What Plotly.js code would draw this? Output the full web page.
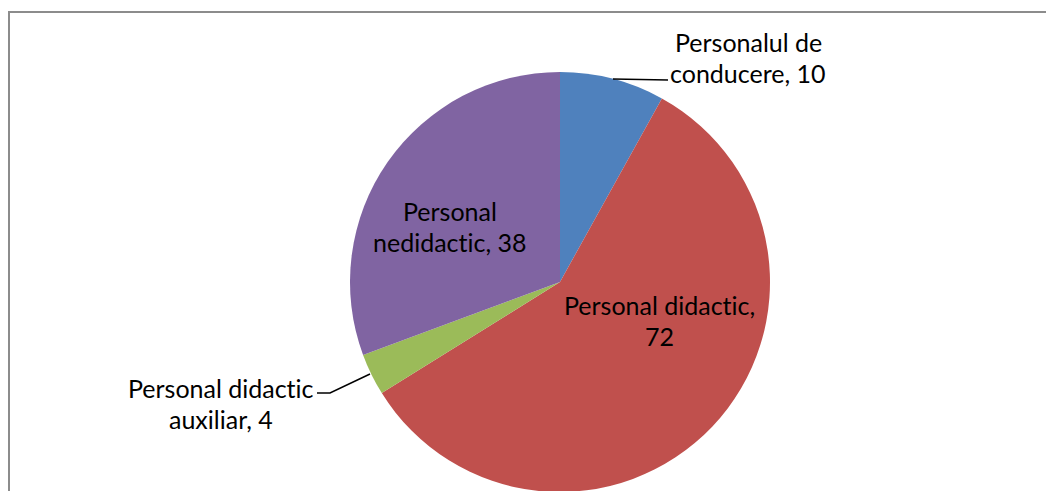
<!DOCTYPE html>
<html><head><meta charset="utf-8">
<script src="https://cdn.plot.ly/plotly-3.0.1.min.js"></script>
<style>html,body{margin:0;padding:0;overflow:hidden;background:#fff;}#chart{width:1046px;height:520px;}
svg text{font-variant-ligatures:none;font-feature-settings:"liga" 0;}</style>
</head><body><div id="chart"></div>
<script>
var labels = ['Personalul de conducere', 'Personal didactic', 'Personal didactic auxiliar', 'Personal nedidactic'];
var values = [10, 72, 4, 38];
var colors = ['#4F81BD', '#C0504D', '#9BBB59', '#8064A2'];
// how each label is broken into lines (the value is appended to the last line)
var labelLines = [['Personalul de', 'conducere'], ['Personal didactic', ''], ['Personal didactic', 'auxiliar'], ['Personal', 'nedidactic']];

var W = 1046, H = 520, ml = 350, mr = 276, mt = 72, mb = 28;
var PW = W - ml - mr, PH = H - mt - mb;
function px(x){ return (x - ml) / PW; }
function py(y){ return (H - mb - y) / PH; }

// label anchor centres (pixels) for each slice's text block
var labelPos = [[748, 42], [659, 305], [221, 388], [450, 211]];
var lineGap = 31;
var annotations = [];
labels.forEach(function(l, i){
  var lines = labelLines[i].slice();
  var last = lines.length - 1;
  if (lines[last] === '') { lines[last - 1] += ','; lines[last] = String(values[i]); }
  else { lines[last] += ', ' + values[i]; }
  lines.forEach(function(t, k){
    annotations.push({xref:'paper', yref:'paper', x: px(labelPos[i][0]), y: py(labelPos[i][1] + k*lineGap),
      text: t, showarrow:false, xanchor:'center', yanchor:'middle',
      font:{family:'Lato, "Open Sans", sans-serif', size:25, color:'#000'}});
  });
});

var shapes = [
  {type:'rect', xref:'paper', yref:'paper', x0:px(9), x1:px(1060), y0:py(12), y1:py(700), line:{color:'#8c8c8c', width:2}, fillcolor:'rgba(0,0,0,0)', layer:'below'},
  {type:'path', xref:'paper', yref:'paper', path:'M '+px(613)+' '+py(79)+' L '+px(668)+' '+py(80), line:{color:'#000', width:1.5}},
  {type:'path', xref:'paper', yref:'paper', path:'M '+px(317)+' '+py(393)+' L '+px(330)+' '+py(393)+' L '+px(370)+' '+py(374), line:{color:'#000', width:1.5}}
];

var data = [{
  type:'pie', labels: labels, values: values, sort:false, direction:'clockwise', rotation:0,
  marker:{colors: colors, line:{width:0}}, textinfo:'none', hoverinfo:'none', showlegend:false
}];
var layout = {width:W, height:H, margin:{l:ml, r:mr, t:mt, b:mb, pad:0}, paper_bgcolor:'#fff', plot_bgcolor:'#fff',
  showlegend:false, annotations: annotations, shapes: shapes};
Plotly.newPlot('chart', data, layout, {displayModeBar:false, staticPlot:true});
</script></body></html>
